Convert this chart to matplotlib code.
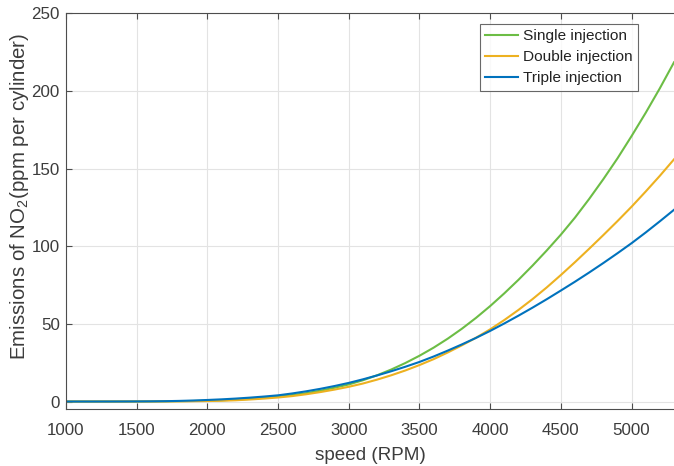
import matplotlib
matplotlib.use("Agg")
import matplotlib.pyplot as plt

# Engine speed (RPM) and NO2 emissions (ppm per cylinder), sampled every 100 RPM
speed = [1000, 1100, 1200, 1300, 1400, 1500, 1600, 1700, 1800, 1900,
         2000, 2100, 2200, 2300, 2400, 2500, 2600, 2700, 2800, 2900,
         3000, 3100, 3200, 3300, 3400, 3500, 3600, 3700, 3800, 3900,
         4000, 4100, 4200, 4300, 4400, 4500, 4600, 4700, 4800, 4900,
         5000, 5100, 5200, 5300]
single_inj = [0.0, 0.0, 0.0, 0.0, 0.02, 0.04, 0.08, 0.15, 0.25, 0.35,
              0.5, 0.8, 1.2, 1.7, 2.4, 3.2, 4.2, 5.4, 7.0, 8.9,
              11.0, 13.7, 16.9, 20.6, 24.8, 29.5, 34.7, 40.5, 46.9, 53.9,
              61.5, 69.7, 78.4, 87.6, 97.3, 107.5, 118.5, 130.5, 143.2, 156.6,
              171.0, 186.0, 201.8, 218.5]
double_inj = [0.0, 0.0, 0.0, 0.0, 0.0, 0.01, 0.03, 0.06, 0.12, 0.2,
              0.3, 0.5, 0.8, 1.3, 1.9, 2.6, 3.5, 4.7, 6.1, 7.7,
              9.5, 11.6, 14.1, 16.9, 20.0, 23.5, 27.3, 31.6, 36.2, 41.1,
              46.5, 52.5, 59.0, 66.0, 73.5, 81.5, 89.8, 98.4, 107.2, 116.2,
              125.5, 135.3, 145.4, 156.0]
triple_inj = [0.0, 0.0, 0.0, 0.01, 0.03, 0.06, 0.12, 0.22, 0.4, 0.65,
              1.0, 1.4, 1.9, 2.5, 3.2, 4.0, 5.2, 6.6, 8.2, 10.0,
              12.0, 14.3, 16.8, 19.5, 22.4, 25.5, 29.0, 32.8, 36.8, 41.0,
              45.5, 50.3, 55.3, 60.5, 65.9, 71.5, 77.2, 83.1, 89.2, 95.5,
              102.0, 108.9, 116.1, 123.5]

series_labels = ["Single injection", "Double injection", "Triple injection"]
series_colors = ["#6cbd45", "#edb120", "#0072bd"]

x_ticks = [1000, 1500, 2000, 2500, 3000, 3500, 4000, 4500, 5000]
y_ticks = [0, 50, 100, 150, 200, 250]

plt.rcParams["font.family"] = ["Liberation Sans", "DejaVu Sans"]
plt.rcParams["mathtext.fontset"] = "custom"
plt.rcParams["mathtext.rm"] = "Liberation Sans"
plt.rcParams["mathtext.it"] = "Liberation Sans"
plt.rcParams["mathtext.default"] = "regular"

text_color = "#3c3c3c"
axis_color = "#4d4d4d"

fig = plt.figure(figsize=(6.74, 4.66), dpi=100)
ax = fig.add_axes([0.0979, 0.1217, 0.9021, 0.8495])

for ys, lab, col in zip([single_inj, double_inj, triple_inj], series_labels, series_colors):
    ax.plot(speed, ys, color=col, lw=1.5, label=lab)

ax.set_xlim(1000, 5300)
ax.set_ylim(-5, 250)
ax.set_xticks(x_ticks)
ax.set_yticks(y_ticks)

ax.grid(True, color="#e3e3e3", lw=0.8)
ax.set_axisbelow(True)

for side in ["left", "bottom", "top"]:
    ax.spines[side].set_color(axis_color)
    ax.spines[side].set_linewidth(0.8)
ax.spines["right"].set_visible(False)

ax.tick_params(axis="both", direction="in", length=4.3, width=0.8,
               color=axis_color, labelcolor=text_color, labelsize=12.2)
ax.tick_params(axis="x", top=True, pad=10)
ax.tick_params(axis="y", pad=4.5)

ax.set_xlabel("speed (RPM)", fontsize=13.6, color=text_color, labelpad=6.5)
ax.set_ylabel("Emissions of NO$_2$(ppm per cylinder)", fontsize=14.8,
              color=text_color, labelpad=0.5)
ax.yaxis.set_label_coords(-0.058, 0.5377)

leg = ax.legend(loc="upper right", bbox_to_anchor=(0.9408, 0.9735),
                borderaxespad=0, fontsize=11.1, frameon=True, fancybox=False,
                handlelength=2.15, handletextpad=0.3, labelspacing=0.45,
                borderpad=0.35)
leg.get_frame().set_edgecolor("#444444")
leg.get_frame().set_linewidth(0.8)
for t in leg.get_texts():
    t.set_color("#222222")

fig.savefig("out.png", dpi=100, facecolor="white")
